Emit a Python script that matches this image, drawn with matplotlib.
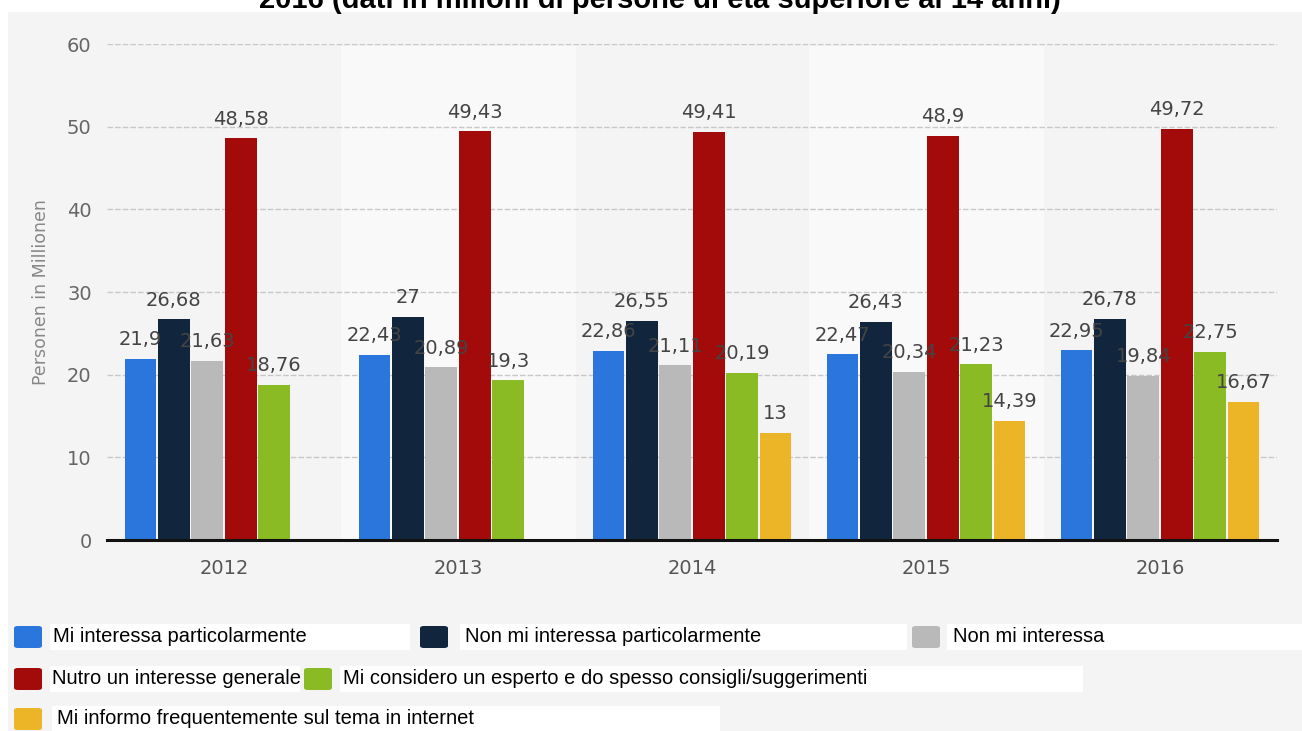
import matplotlib
matplotlib.use("Agg")
import matplotlib.pyplot as plt
from matplotlib.patches import Rectangle, FancyBboxPatch
import numpy as np


YEARS = ["2012", "2013", "2014", "2015", "2016"]

SERIES = [
	"Mi interessa particolarmente",
	"Non mi interessa particolarmente",
	"Non mi interessa",
	"Nutro un interesse generale",
	"Mi considero un esperto e do spesso consigli/suggerimenti",
	"Mi informo frequentemente sul tema in internet",
]

COLORS = ["#2a76dd", "#11263d", "#b9b9b9", "#a30b0b", "#8aba24", "#ecb427"]

# values in millions, one list per series (None = not surveyed that year)
interessa_partic = [21.9, 22.43, 22.86, 22.47, 22.95]
non_interessa_partic = [26.68, 27, 26.55, 26.43, 26.78]
non_interessa = [21.63, 20.89, 21.11, 20.34, 19.84]
interesse_generale = [48.58, 49.43, 49.41, 48.9, 49.72]
esperto = [18.76, 19.3, 20.19, 21.23, 22.75]
informo_internet = [None, None, 13, 14.39, 16.67]

VALUES = [
	interessa_partic,
	non_interessa_partic,
	non_interessa,
	interesse_generale,
	esperto,
	informo_internet,
]

TITLE = "2016 (dati in milioni di persone di età superiore ai 14 anni)"
Y_LABEL = "Personen in Millionen"

W, H = 1302, 731
BG = "#f4f4f4"


def fx(px):
	return px / W


def fy(py):
	# pixel row measured from the top
	return 1 - py / H


def fmt(v):
	return f"{v:g}".replace(".", ",")


fig = plt.figure(figsize=(W / 100, H / 100), dpi=100, facecolor="white")

# grey panel behind everything
fig.patches.append(Rectangle((fx(8), 0), 1, fy(12), transform=fig.transFigure,
	facecolor=BG, edgecolor="none", zorder=-10))

# title runs off the top edge, only its lower part shows
fig.text(0.507, fy(8), TITLE, ha="center", va="baseline", fontsize=21,
	fontweight="bold", family=["Liberation Sans", "DejaVu Sans"], color="black")

ax = fig.add_axes([fx(107), fy(540), fx(1277) - fx(107), fy(44) - fy(540)])
ax.set_facecolor(BG)

x = np.arange(len(YEARS))
slot = 1 / 7.0
bar_w = slot * 0.95

for i in (1, 3):
	ax.axvspan(i - 0.5, i + 0.5, ymax=0.995, color="#f9f9f9", zorder=0)

for j, (vals, col) in enumerate(zip(VALUES, COLORS)):
	off = (j - 2.5) * slot
	for k, v in enumerate(vals):
		if v is None:
			continue
		ax.bar(x[k] + off, v, width=bar_w, color=col, edgecolor="none", zorder=3)
		ax.annotate(fmt(v), (x[k] + off, v), xytext=(0, 7), textcoords="offset points",
			ha="center", va="bottom", fontsize=14, color="#444444", zorder=4)

ax.set_xlim(-0.5, 4.5)
ax.set_ylim(0, 60)
ax.set_yticks(range(0, 61, 10))
ax.set_xticks(x)
ax.set_xticklabels(YEARS)
ax.grid(axis="y", color="#c8c8c8", linestyle=(0, (4, 1.5)), linewidth=1, zorder=1)
ax.set_axisbelow(True)
for s in ("top", "right", "left"):
	ax.spines[s].set_visible(False)
ax.spines["bottom"].set_color("#111111")
ax.spines["bottom"].set_linewidth(2.2)
ax.spines["bottom"].set_zorder(5)
ax.tick_params(axis="y", length=0, pad=11, labelsize=14, labelcolor="#666666")
ax.tick_params(axis="x", length=0, pad=14, labelsize=14, labelcolor="#555555")
ax.set_ylabel(Y_LABEL, fontsize=12.5, color="#888888", labelpad=12)

# legend drawn by hand: coloured square, text on a white strip
legend_rows = [
	# (series index, square x, text x, white strip x0, x1, row centre y)
	(0, 14, 53, 50, 410, 637),
	(1, 420, 465, 460, 907, 637),
	(2, 912, 953, 947, 1302, 637),
	(3, 14, 52, 50, 300, 679),
	(4, 304, 343, 340, 1083, 679),
	(5, 14, 57, 52, 720, 719),
]
for idx, sq_x, tx, x0, x1, cy in legend_rows:
	fig.patches.append(Rectangle((fx(x0), fy(cy + 13)), fx(x1) - fx(x0), 26 / H,
		transform=fig.transFigure, facecolor="white", edgecolor="none", zorder=1))
	fig.patches.append(FancyBboxPatch((fx(sq_x), fy(cy + 11)), fx(28), 22 / H,
		boxstyle="round,pad=0,rounding_size=0.003", transform=fig.transFigure,
		facecolor=COLORS[idx], edgecolor="none", zorder=2))
	fig.text(fx(tx), fy(cy), SERIES[idx], ha="left", va="center", fontsize=14.5,
		family=["Liberation Sans", "DejaVu Sans"], color="black", zorder=3)

fig.savefig("out.png", dpi=100, facecolor="white")
